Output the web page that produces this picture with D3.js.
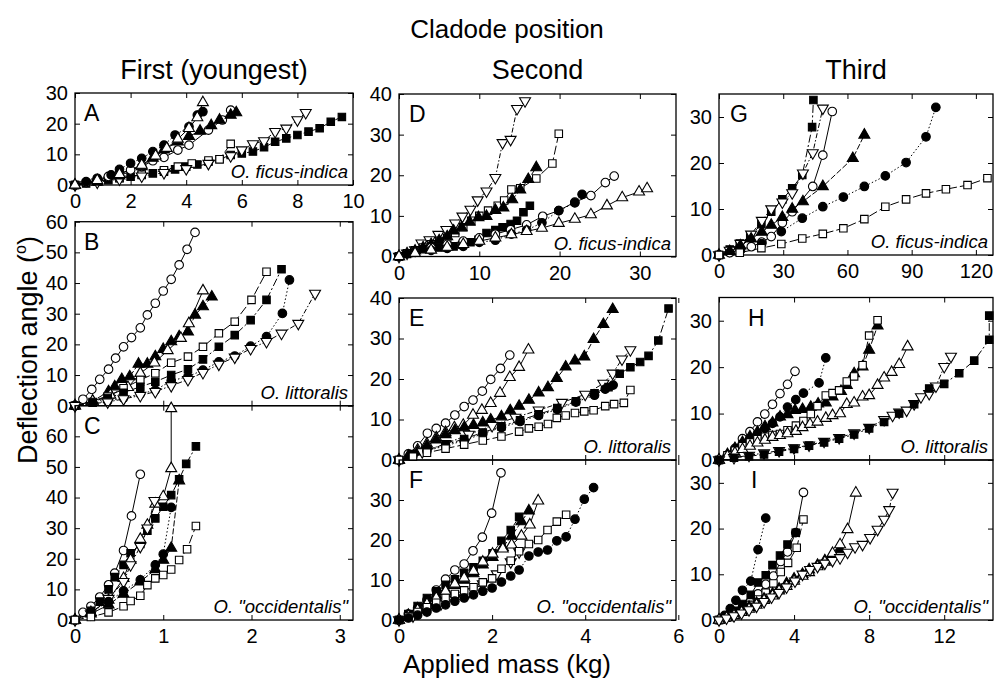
<!DOCTYPE html>
<html>
<head>
<meta charset="utf-8">
<script src="https://cdn.jsdelivr.net/npm/d3@7"></script>
<style>
  body { margin: 0; background: #fff; }
  text { font-family: "Liberation Sans", Arial, Helvetica, sans-serif; fill: #000; }
</style>
</head>
<body>
<svg id="chart" width="995" height="680"></svg>
<script>
// ---- data: [applied mass (kg), deflection angle (deg)] ----
// marker codes: co = open circle, cf = filled circle, tuo/tuf = triangle up open/filled,
// so/sf = square open/filled, tdo = open triangle down

// Panel A - first cladode, O. ficus-indica
const seriesA = [
  { m: "sf", pts: [[0,0],[0.4,0.5],[0.8,1.1],[1.2,1.6],[1.6,2.2],[2.0,2.7],[2.4,3.3],[2.8,3.8],[3.2,4.3],[3.6,5.1],[4.0,6.0],[4.4,6.7],[4.8,7.6],[5.2,8.4],[5.6,9.8],[6.0,10.3],[6.4,10.9],[6.8,12.3],[7.2,14.1],[7.6,15.2],[8.0,16.3],[8.4,17.4],[8.8,18.5],[9.2,20.6],[9.6,22.2]] },
  { m: "so", pts: [[0,0],[0.8,1.2],[1.6,2.3],[2.4,3.4],[3.2,4.8],[3.7,6.0],[4.2,7.0],[4.8,8.0],[5.2,8.4],[5.6,13.4]] },
  { m: "tdo", pts: [[0,0],[0.8,0.9],[1.6,1.9],[2.4,2.9],[3.2,4.0],[4.0,5.3],[4.8,7.0],[5.6,9.5],[6.0,11.4],[6.4,13.4],[6.8,14.4],[7.2,17.4],[7.6,18.5],[8.0,21.2],[8.3,23.6]] },
  { m: "co", pts: [[0,0],[0.4,0.8],[0.8,1.8],[1.2,2.8],[1.6,3.8],[2.0,4.9],[2.4,6.0],[2.8,7.9],[3.2,9.0],[3.7,11.4],[4.1,13.0],[4.8,17.9],[5.3,21.2],[5.6,24.4]] },
  { m: "cf", pts: [[0,0],[0.4,1.1],[0.8,2.2],[1.3,3.3],[1.6,5.1],[2.0,7.1],[2.4,8.7],[2.8,10.9],[3.2,13.0],[3.6,16.3],[4.1,19.0],[4.4,22.8],[4.6,23.9]] },
  { m: "tuf", pts: [[0,0],[0.8,1.0],[1.6,3.0],[2.4,6.0],[2.8,8.8],[3.2,11.5],[3.7,14.1],[4.1,15.9],[4.5,17.6],[4.9,19.4],[5.2,21.2],[5.6,22.8],[5.8,23.6]] },
  { m: "tuo", pts: [[0,0],[0.8,1.5],[1.6,3.5],[2.4,6.5],[2.9,9.5],[3.3,12.0],[3.7,15.0],[4.1,18.5],[4.4,22.0],[4.6,26.9]] }
];

// Panel B - first cladode, O. littoralis
const seriesB = [
  { m: "co", pts: [[0,0],[0.09,2.1],[0.19,5.3],[0.28,8.6],[0.38,11.9],[0.46,15.5],[0.55,19.2],[0.64,22.2],[0.74,25.4],[0.82,29.6],[0.91,33.4],[1.0,37.4],[1.09,41.2],[1.18,45.9],[1.27,51.0],[1.36,56.5]] },
  { m: "tuf", pts: [[0,0],[0.2,1.5],[0.38,4.6],[0.45,6.2],[0.53,8.6],[0.62,9.5],[0.72,13.6],[0.82,13.6],[0.91,16.0],[1.0,18.4],[1.09,20.9],[1.18,22.5],[1.28,24.1],[1.36,29.6],[1.45,32.3],[1.55,35.5]] },
  { m: "tuo", pts: [[0,0],[0.2,1.5],[0.4,3.5],[0.6,6.0],[0.74,10.6],[0.9,14.0],[1.05,18.0],[1.2,22.0],[1.29,26.8],[1.45,37.5]] },
  { m: "so", pts: [[0,0],[0.2,1.2],[0.37,3.0],[0.55,5.7],[0.74,8.4],[0.91,10.6],[1.09,14.0],[1.28,16.0],[1.45,19.2],[1.63,23.6],[1.81,27.4],[2.0,34.5],[2.17,43.7]] },
  { m: "sf", pts: [[0,0],[0.2,1.0],[0.37,2.5],[0.55,4.2],[0.74,6.2],[0.91,7.8],[1.09,10.0],[1.28,11.9],[1.45,15.1],[1.63,19.2],[1.81,23.0],[1.99,27.9],[2.17,34.5],[2.34,44.5]] },
  { m: "cf", pts: [[0,0],[0.37,1.5],[0.55,2.5],[0.74,3.8],[0.91,5.1],[1.09,8.1],[1.28,9.5],[1.45,11.6],[1.63,14.3],[1.81,16.2],[1.99,19.4],[2.17,22.5],[2.35,30.1],[2.43,41.0]] },
  { m: "tdo", pts: [[0,0],[0.37,1.2],[0.55,2.2],[0.74,3.3],[0.91,4.6],[1.09,6.5],[1.28,8.5],[1.45,10.8],[1.63,13.5],[1.81,15.8],[1.99,18.6],[2.17,20.9],[2.34,23.6],[2.53,26.8],[2.72,36.6]] }
];

// Panel C - first cladode, O. "occidentalis"
const seriesC = [
  { m: "co", pts: [[0,0],[0.09,2.5],[0.18,4.5],[0.28,7.5],[0.38,11.5],[0.45,15.3],[0.55,22.7],[0.64,34.0],[0.74,47.6]] },
  { m: "sf", pts: [[0,0],[0.18,3.0],[0.28,6.0],[0.38,10.0],[0.45,14.0],[0.55,18.0],[0.63,21.8],[0.74,24.8],[0.82,29.2],[0.91,33.2],[1.0,37.0],[1.09,40.8],[1.18,46.0],[1.26,51.0],[1.37,56.7]] },
  { m: "tuo", pts: [[0,0],[0.18,2.5],[0.38,6.5],[0.55,13.6],[0.63,19.6],[0.74,26.4],[0.82,31.0],[0.91,37.9],[1.0,40.3],[1.09,49.5],[1.09,69.1]] },
  { m: "tdo", pts: [[0,0],[0.18,2.0],[0.38,7.0],[0.55,12.5],[0.63,18.0],[0.74,24.0],[0.82,30.0],[0.9,39.0]] },
  { m: "tuf", pts: [[0,0],[0.18,2.0],[0.38,5.0],[0.55,8.5],[0.74,12.5],[0.91,16.5],[1.0,19.6],[1.09,23.5],[1.18,45.5]] },
  { m: "cf", pts: [[0,0],[0.18,2.5],[0.38,6.0],[0.55,9.5],[0.74,13.1],[0.91,18.0],[1.0,21.5],[1.09,36.8]] },
  { m: "so", pts: [[0,0],[0.18,1.0],[0.38,2.5],[0.55,4.5],[0.63,6.2],[0.74,7.9],[0.82,11.4],[0.91,13.6],[1.0,14.7],[1.09,16.5],[1.18,19.6],[1.27,23.1],[1.37,30.7]] }
];

// Panel D - second cladode, O. ficus-indica
const seriesD = [
  { m: "tdo", pts: [[0,0],[1,0.8],[2,1.6],[2.8,3.3],[3.8,4.1],[4.9,5.4],[5.9,6.6],[7.0,8.2],[7.9,9.9],[8.9,11.6],[9.8,13.9],[10.9,16.1],[12.0,19.4],[12.9,28.0],[13.9,28.8],[14.7,36.4],[15.7,38.3]] },
  { m: "so", pts: [[0,0],[1,0.8],[2,1.5],[3,2.2],[4,3.0],[5,3.8],[6,4.6],[7,5.8],[8,7.2],[9,8.8],[10,10.0],[11.1,11.3],[12.3,12.5],[13.1,13.8],[14,16.5],[15.1,16.8],[17.1,19.2],[19.1,22.9],[19.9,30.2]] },
  { m: "tuf", pts: [[0,0],[1,0.7],[2,1.4],[3,2.2],[4,3.0],[5,3.9],[6,4.9],[6.8,6.3],[7.8,7.1],[8.8,8.5],[9.9,9.6],[10.9,9.9],[12.0,11.4],[13.0,12.0],[14.1,14.0],[15.1,16.4],[16.1,19.0],[17.1,21.9]] },
  { m: "sf", pts: [[0,0],[1,0.6],[2,1.2],[3,1.8],[4,2.0],[4.8,2.2],[5.8,2.2],[6.8,2.5],[7.9,2.9],[8.9,3.5],[9.9,4.1],[10.9,5.8],[12.0,6.5],[12.9,7.2],[13.9,8.0],[14.7,8.8],[15.5,10.9],[16.3,12.5]] },
  { m: "co", pts: [[0,0],[2,1.2],[4,2.2],[6,3.0],[8,3.8],[10,4.6],[12,5.5],[13.9,6.6],[15.9,7.8],[17.9,9.9],[19.9,11.3],[21.9,13.4],[23.9,15.0],[25.7,18.2],[26.8,19.8]] },
  { m: "cf", pts: [[0,0],[2,1.0],[4,1.5],[6,2.0],[8,2.5],[10,3.5],[12,4.0],[14,5.5],[15.9,6.5],[17.8,8.3],[19.9,11.3],[21.9,13.2],[22.8,15.3]] },
  { m: "tuo", pts: [[0,0],[2,0.8],[4,1.6],[6,2.3],[8,3.0],[10,3.8],[12,4.6],[14,5.4],[15.9,6.2],[17.8,7.0],[19.9,8.2],[21.9,9.2],[23.9,10.3],[25.9,12.5],[27.8,14.5],[29.9,15.9],[30.9,16.7]] }
];

// Panel E - second cladode, O. littoralis
const seriesE = [
  { m: "co", pts: [[0,0],[0.2,1.5],[0.4,3.5],[0.61,6.6],[0.8,7.8],[1.0,9.1],[1.2,11.1],[1.4,13.2],[1.59,14.8],[1.79,17.0],[1.97,19.9],[2.18,22.6],[2.38,25.9]] },
  { m: "tuo", pts: [[0,0],[0.2,1.0],[0.4,2.5],[0.6,4.0],[0.8,5.5],[1.0,6.8],[1.19,8.0],[1.38,8.6],[1.59,11.1],[1.78,12.3],[1.97,14.0],[2.17,16.5],[2.38,20.4],[2.58,22.9],[2.78,27.2]] },
  { m: "tuf", pts: [[0,0],[0.2,0.8],[0.4,2.0],[0.6,3.5],[0.8,5.0],[1.0,6.3],[1.2,7.3],[1.4,8.0],[1.6,8.6],[1.8,9.2],[1.97,9.9],[2.2,10.7],[2.39,12.2],[2.58,13.3],[2.79,14.8],[3.0,16.6],[3.2,17.9],[3.39,20.2],[3.58,23.0],[3.78,24.5],[3.98,25.5],[4.18,29.8],[4.39,33.5],[4.59,37.2]] },
  { m: "tdo", pts: [[0,0],[0.5,2.0],[1.0,4.0],[1.5,6.3],[2.0,8.5],[2.5,10.5],[3.0,12.3],[3.5,14.2],[4.0,16.2],[4.39,18.9],[4.59,21.4],[4.79,24.9],[4.97,27.2]] },
  { m: "sf", pts: [[0,0],[0.3,1.5],[0.6,2.5],[1.0,3.8],[1.4,5.2],[1.8,6.8],[2.2,8.3],[2.6,9.8],[3.0,11.3],[3.4,12.8],[3.8,14.5],[4.2,16.5],[4.5,18.0],[4.74,21.3],[4.97,22.9],[5.18,24.2],[5.36,25.7],[5.57,29.5],[5.79,37.4]] },
  { m: "cf", pts: [[0,0],[0.3,1.2],[0.6,2.3],[1.0,3.5],[1.4,4.8],[1.8,6.5],[2.2,8.0],[2.6,9.5],[3.0,11.0],[3.4,12.5],[3.8,14.3],[4.2,16.0],[4.43,17.5],[4.6,18.5]] },
  { m: "so", pts: [[0,0],[0.3,0.8],[0.6,1.8],[1.0,2.8],[1.4,3.8],[1.8,4.8],[2.2,5.8],[2.58,7.0],[2.79,7.8],[3.0,8.2],[3.2,8.9],[3.39,10.4],[3.58,11.0],[3.78,11.6],[3.98,12.0],[4.18,12.3],[4.43,13.3],[4.62,13.8],[4.83,14.1],[4.97,17.3]] }
];

// Panel F - second cladode, O. "occidentalis"
const seriesF = [
  { m: "co", pts: [[0,0],[0.2,1.5],[0.4,3.0],[0.6,5.0],[0.8,7.5],[1.0,10.2],[1.2,12.5],[1.4,14.0],[1.59,17.3],[1.79,20.7],[1.99,26.7],[2.19,36.8]] },
  { m: "sf", pts: [[0,0],[0.2,1.5],[0.4,3.5],[0.6,5.5],[0.8,7.2],[1.0,8.8],[1.2,10.2],[1.4,11.8],[1.6,13.2],[1.8,14.8],[2.01,16.7],[2.2,19.8],[2.4,22.5],[2.58,25.8]] },
  { m: "tuf", pts: [[0,0],[0.2,1.2],[0.4,2.8],[0.6,4.5],[0.8,6.2],[1.0,7.5],[1.2,8.7],[1.4,10.0],[1.6,11.6],[1.8,13.8],[2.01,15.7],[2.23,18.2],[2.42,21.0],[2.63,24.6],[2.79,27.3]] },
  { m: "tuo", pts: [[0,0],[0.2,1.0],[0.4,2.5],[0.6,4.0],[0.8,5.5],[1.0,7.2],[1.2,9.0],[1.4,10.5],[1.6,12.2],[1.8,14.5],[2.01,16.5],[2.23,17.8],[2.42,18.8],[2.63,21.0],[2.81,23.8],[2.99,29.8]] },
  { m: "tdo", pts: [[0,0],[0.3,1.0],[0.6,2.5],[0.9,4.0],[1.2,5.5],[1.5,7.0],[1.8,9.0],[2.1,11.5],[2.4,14.5],[2.58,17.0]] },
  { m: "so", pts: [[0,0],[0.2,0.8],[0.4,2.0],[0.6,3.2],[0.8,4.3],[1.0,5.5],[1.2,6.5],[1.4,7.4],[1.6,8.2],[1.8,9.4],[2.0,10.4],[2.2,12.8],[2.4,14.8],[2.58,17.2],[2.79,19.0],[2.99,20.0],[3.19,22.5],[3.39,24.6],[3.59,26.3]] },
  { m: "cf", pts: [[0,0],[0.2,0.5],[0.4,1.2],[0.6,2.0],[0.8,3.0],[1.0,3.8],[1.2,4.7],[1.4,5.5],[1.6,6.3],[1.8,7.2],[2.0,8.0],[2.2,9.5],[2.4,11.0],[2.58,12.5],[2.79,16.0],[2.99,17.0],[3.19,17.5],[3.39,19.8],[3.59,20.8],[3.78,25.2],[3.98,30.2],[4.18,33.1]] }
];

// Panel G - third cladode, O. ficus-indica
const seriesG = [
  { m: "sf", pts: [[0,0],[5.0,1.2],[9.7,2.5],[14.6,4.1],[19.8,6.7],[24.4,9.4],[29.6,12.1],[34.2,14.5],[38.9,17.4],[43.5,27.8],[44.1,33.7]] },
  { m: "tdo", pts: [[0,0],[5,1.0],[10,2.5],[15,4.5],[20,7.5],[24.4,10.0],[29.6,11.5],[34.2,13.5],[39.2,17.8],[43.8,22.2],[48.5,31.9]] },
  { m: "co", pts: [[0,0],[5,0.5],[10,1.2],[15.1,1.8],[20,2.8],[24.4,4.0],[29.6,7.0],[34.2,9.4],[43.8,14.9],[48.5,21.7],[52.9,31.2]] },
  { m: "tuf", pts: [[0,0],[5,0.8],[10,2.0],[15,3.5],[20,5.0],[24.4,6.5],[29.6,8.2],[34.2,10.0],[39.2,11.6],[48.5,14.9],[62.5,21.0],[67.9,26.1]] },
  { m: "cf", pts: [[0,0],[10,1.0],[20,2.5],[29.1,5.1],[38.9,8.0],[48.5,10.5],[58.1,12.6],[67.9,14.9],[77.7,17.2],[87.4,20.1],[96.7,25.7],[101.3,32.1]] },
  { m: "so", pts: [[0,0],[9.7,0.5],[19.8,1.5],[29.1,2.4],[38.9,3.6],[48.5,4.6],[58.1,5.8],[67.9,7.8],[77.7,10.5],[87.4,12.1],[96.7,13.4],[106,14.3],[116.1,15.2],[125.4,16.7]] }
];

// Panel H - third cladode, O. littoralis
const seriesH = [
  { m: "co", pts: [[0,0],[0.45,1.0],[0.85,2.5],[1.25,4.6],[1.65,6.1],[2.05,8.2],[2.44,9.9],[2.85,12.0],[3.25,14.3],[3.65,16.3],[4.05,19.1]] },
  { m: "cf", pts: [[0,0],[0.45,1.0],[0.85,2.2],[1.25,3.5],[1.65,4.6],[2.05,5.6],[2.45,6.8],[2.85,7.9],[3.25,9.3],[3.65,11.4],[4.09,13.0],[4.5,14.4],[5.33,16.6],[5.69,22.0]] },
  { m: "tuf", pts: [[0,0],[0.45,1.2],[0.85,2.5],[1.25,3.8],[1.65,5.0],[2.05,6.0],[2.45,7.2],[2.85,8.0],[3.25,9.3],[3.65,9.8],[4.05,10.7],[4.45,10.9],[4.89,11.4],[5.28,12.1],[5.69,12.3],[6.05,13.6],[6.5,14.8],[6.81,16.1],[7.2,18.6],[7.65,20.1],[8.0,23.7],[8.45,28.9]] },
  { m: "so", pts: [[0,0],[0.45,1.0],[0.85,2.0],[1.25,3.0],[1.65,3.8],[2.05,4.5],[2.45,5.0],[2.85,5.4],[3.25,5.6],[3.65,6.4],[4.1,7.4],[4.5,8.4],[4.89,9.9],[5.25,11.6],[5.69,13.9],[6.05,14.4],[6.4,15.0],[6.81,16.9],[7.2,18.0],[7.65,20.4],[8.0,26.8],[8.45,30.1]] },
  { m: "tuo", pts: [[0,0],[0.45,0.8],[0.85,1.5],[1.25,2.3],[1.65,3.0],[2.05,3.7],[2.45,4.3],[2.85,4.9],[3.25,5.3],[3.65,5.7],[4.1,6.2],[4.45,7.0],[4.85,7.7],[5.25,8.2],[5.69,9.0],[6.05,9.6],[6.45,10.0],[6.81,12.0],[7.2,12.3],[7.65,13.6],[8.0,13.9],[8.45,16.1],[8.8,17.7],[9.2,18.9],[9.6,20.6],[10.05,24.4]] },
  { m: "tdo", pts: [[0,0],[0.8,0.5],[1.6,1.0],[2.4,1.5],[3.2,2.0],[4.0,2.6],[4.8,3.2],[5.6,4.0],[6.4,4.8],[7.2,5.8],[8.0,7.0],[8.8,8.7],[9.25,9.6],[9.6,10.3],[10.0,10.7],[10.4,12.1],[10.76,13.6],[11.2,14.3],[11.56,15.9],[12.0,20.1],[12.36,22.3]] },
  { m: "sf", pts: [[0,0],[0.8,0.5],[1.6,0.8],[2.4,1.2],[3.2,1.8],[4.0,2.4],[4.8,3.1],[5.6,3.8],[6.4,4.6],[7.2,5.5],[8.0,6.8],[8.8,8.2],[9.6,10.0],[10.4,12.0],[11.2,15.4],[12.0,16.4],[12.8,18.7],[13.6,21.4],[14.4,25.9],[14.4,31.1]] }
];

// Panel I - third cladode, O. "occidentalis"
const seriesI = [
  { m: "cf", pts: [[0,0],[0.3,1.0],[0.6,2.5],[0.9,4.3],[1.25,6.5],[1.69,8.5],[2.08,15.4],[2.49,22.3]] },
  { m: "co", pts: [[0,0],[0.4,0.8],[0.8,1.8],[1.25,2.8],[1.65,3.9],[2.08,5.7],[2.49,7.8],[2.9,9.6],[3.29,12.8],[3.65,14.9],[4.09,19.1],[4.5,27.9]] },
  { m: "so", pts: [[0,0],[0.4,0.5],[0.8,1.2],[1.25,2.2],[1.65,3.3],[2.08,4.5],[2.49,6.0],[2.9,8.0],[3.29,10.5],[3.68,12.5],[4.14,15.8],[4.5,22.0]] },
  { m: "sf", pts: [[0,0],[0.4,0.8],[0.8,2.0],[1.25,3.5],[1.69,5.5],[2.08,8.2],[2.49,9.8],[2.85,12.0],[3.25,14.1],[3.65,16.5],[4.09,19.1]] },
  { m: "tuf", pts: [[0,0],[0.4,0.6],[0.8,1.3],[1.2,2.0],[1.6,2.8],[2.0,3.7],[2.4,4.6],[2.85,5.7],[3.2,6.8],[3.6,8.0],[4.0,9.0],[4.45,10.0],[4.8,11.0],[5.25,12.0],[5.64,13.0],[6.05,14.0],[6.45,15.4]] },
  { m: "tuo", pts: [[0,0],[0.4,0.5],[0.8,1.0],[1.2,1.7],[1.6,2.4],[2.0,3.3],[2.4,4.3],[2.85,5.3],[3.2,6.4],[3.6,7.4],[4.0,8.5],[4.45,9.6],[4.8,10.4],[5.25,11.7],[5.64,12.7],[6.05,14.6],[6.45,16.5],[6.85,19.8],[7.29,27.8]] },
  { m: "tdo", pts: [[0,0],[0.4,0.4],[0.8,0.9],[1.2,1.5],[1.6,2.2],[2.0,3.0],[2.4,4.0],[2.8,5.0],[3.2,6.0],[3.6,7.2],[4.05,8.5],[4.45,10.0],[4.85,11.0],[5.25,11.7],[5.64,12.4],[6.05,13.0],[6.45,13.6],[6.85,14.8],[7.25,16.0],[7.65,16.5],[8.05,18.0],[8.45,19.8],[8.8,22.0],[9.07,24.1],[9.25,27.9]] }
];

// tick labels and text
const columnTitles = ["First (youngest)", "Second", "Third"];
const speciesNames = ["O. ficus-indica", "O. littoralis", "O. \"occidentalis\""];
const ticksA_x = [0, 2, 4, 6, 8, 10], ticksA_y = [0, 10, 20, 30];
const ticksBC_x = [0, 1, 2, 3], ticksB_y = [0, 10, 20, 30, 40, 50, 60], ticksC_y = [0, 10, 20, 30, 40, 50, 60];
const ticksD_x = [0, 10, 20, 30], ticksD_y = [0, 10, 20, 30, 40];
const ticksEF_x = [0, 2, 4, 6], ticksE_y = [0, 10, 20, 30, 40], ticksF_y = [0, 10, 20, 30];
const ticksG_x = [0, 30, 60, 90, 120], ticksG_y = [0, 10, 20, 30];
const ticksHI_x = [0, 4, 8, 12], ticksH_y = [0, 10, 20, 30], ticksI_y = [0, 10, 20, 30];

// ---- layout ----
const svg = d3.select("#chart");
const col = [[75, 353], [399, 676], [719, 993]];

const panels = [
  { key: "A", s: seriesA, c: 0, y0: 185, y1: 93, xd: [0, 10], yd: [0, 30], xt: ticksA_x, yt: ticksA_y, xl: true, sp: 0, lx: 9 },
  { key: "B", s: seriesB, c: 0, y0: 405.7, y1: 221.7, xd: [0, 3.15], yd: [0, 60], xt: ticksBC_x, yt: ticksB_y, xl: false, sp: 1, lx: 9 },
  { key: "C", s: seriesC, c: 0, y0: 620, y1: 405.7, xd: [0, 3.15], yd: [0, 70], xt: ticksBC_x, yt: ticksC_y, xl: true, sp: 2, lx: 9 },
  { key: "D", s: seriesD, c: 1, y0: 256.5, y1: 94, xd: [0, 34.5], yd: [0, 40], xt: ticksD_x, yt: ticksD_y, xl: true, sp: 0, lx: 10 },
  { key: "E", s: seriesE, c: 1, y0: 460, y1: 298, xd: [0, 5.95], yd: [0, 40], xt: ticksEF_x, yt: ticksE_y, xl: false, sp: 1, lx: 10 },
  { key: "F", s: seriesF, c: 1, y0: 620, y1: 460, xd: [0, 5.95], yd: [0, 40], xt: ticksEF_x, yt: ticksF_y, xl: true, sp: 2, lx: 10 },
  { key: "G", s: seriesG, c: 2, y0: 255, y1: 94, xd: [0, 128], yd: [0, 35], xt: ticksG_x, yt: ticksG_y, xl: true, sp: 0, lx: 11 },
  { key: "H", s: seriesH, c: 2, y0: 460, y1: 297.5, xd: [0, 14.6], yd: [0, 35], xt: ticksHI_x, yt: ticksH_y, xl: false, sp: 1, lx: 29 },
  { key: "I", s: seriesI, c: 2, y0: 620, y1: 460, xd: [0, 14.6], yd: [0, 35], xt: ticksHI_x, yt: ticksI_y, xl: true, sp: 2, lx: 32 }
];

// line style per marker type
const dashFor = { co: null, cf: "1.5,2.2", tuo: null, tuf: "6,2", so: "9,3", sf: "8,2.5,2,2.5", tdo: "5,2,1.5,2" };
const symFor = {
  co: d3.symbol().type(d3.symbolCircle).size(58),
  cf: d3.symbol().type(d3.symbolCircle).size(58),
  so: d3.symbol().type(d3.symbolSquare).size(56),
  sf: d3.symbol().type(d3.symbolSquare).size(56),
  tuo: d3.symbol().type(d3.symbolTriangle).size(52),
  tuf: d3.symbol().type(d3.symbolTriangle).size(52),
  tdo: d3.symbol().type(d3.symbolTriangle).size(52)
};
const filled = m => m === "cf" || m === "sf" || m === "tuf";

panels.forEach(p => {
  const [xl, xr] = col[p.c];
  const x = d3.scaleLinear().domain(p.xd).range([xl, xr]);
  const y = d3.scaleLinear().domain(p.yd).range([p.y0, p.y1]);
  const g = svg.append("g").attr("class", "panel-" + p.key);

  // axes with inward ticks
  g.append("g").attr("transform", "translate(" + xl + ",0)")
    .call(d3.axisLeft(y).tickValues(p.yt).tickSize(-5).tickSizeOuter(0).tickPadding(7).tickFormat(d3.format("d")));
  g.append("g").attr("transform", "translate(" + xr + ",0)")
    .call(d3.axisRight(y).tickValues(p.yt).tickSize(-5).tickSizeOuter(0).tickFormat(""));
  g.append("g").attr("transform", "translate(0," + p.y0 + ")")
    .call(d3.axisBottom(x).tickValues(p.xt).tickSize(-5).tickSizeOuter(0).tickPadding(9)
      .tickFormat(p.xl ? d3.format("d") : ""));
  g.append("g").attr("transform", "translate(0," + p.y1 + ")")
    .call(d3.axisTop(x).tickValues(p.xt).tickSize(-5).tickSizeOuter(0).tickFormat(""));
  g.selectAll(".domain").remove();
  g.selectAll(".tick line").attr("stroke", "#000").attr("stroke-width", 1);
  g.selectAll(".tick text").attr("font-size", 20).attr("fill", "#000")
    .style("font-family", "'Liberation Sans', Arial, sans-serif");

  g.append("rect")
    .attr("x", xl).attr("y", p.y1)
    .attr("width", xr - xl).attr("height", p.y0 - p.y1)
    .attr("fill", "none").attr("stroke", "#000").attr("stroke-width", 1.3);

  // series lines
  const line = d3.line().x(d => x(d[0])).y(d => y(d[1]));
  p.s.forEach(s => {
    g.append("path")
      .attr("d", line(s.pts))
      .attr("fill", "none")
      .attr("stroke", "#000")
      .attr("stroke-width", 1)
      .attr("stroke-dasharray", dashFor[s.m]);
  });
  // markers
  p.s.forEach(s => {
    g.selectAll(null)
      .data(s.pts)
      .enter()
      .append("path")
      .attr("d", symFor[s.m]())
      .attr("transform", d => "translate(" + x(d[0]) + "," + y(d[1]) + ")" + (s.m === "tdo" ? " rotate(180)" : ""))
      .attr("fill", filled(s.m) ? "#000" : "#fff")
      .attr("stroke", "#000")
      .attr("stroke-width", 1.1);
  });

  // panel letter and species name
  g.append("text")
    .attr("x", xl + p.lx)
    .attr("y", p.y1 + 28)
    .attr("font-size", 23)
    .text(p.key);
  g.append("text")
    .attr("x", xr - 5)
    .attr("y", p.y0 - 7)
    .attr("text-anchor", "end")
    .attr("font-size", 18.5)
    .attr("font-style", "italic")
    .text(speciesNames[p.sp]);
});

// titles
svg.append("text").attr("x", 507).attr("y", 38).attr("text-anchor", "middle")
  .attr("font-size", 26).text("Cladode position");
columnTitles.forEach((t, i) => {
  svg.append("text")
    .attr("x", (col[i][0] + col[i][1]) / 2)
    .attr("y", 79)
    .attr("text-anchor", "middle")
    .attr("font-size", 27)
    .text(t);
});
svg.append("text").attr("x", 507).attr("y", 673).attr("text-anchor", "middle")
  .attr("font-size", 26).text("Applied mass (kg)");
const yt = svg.append("text")
  .attr("transform", "translate(37,350) rotate(-90)")
  .attr("text-anchor", "middle")
  .attr("font-size", 27);
yt.append("tspan").text("Deflection angle (");
yt.append("tspan").attr("font-size", 16).attr("dy", -11).text("o");
yt.append("tspan").attr("dy", 11).text(")");
</script>
</body>
</html>
